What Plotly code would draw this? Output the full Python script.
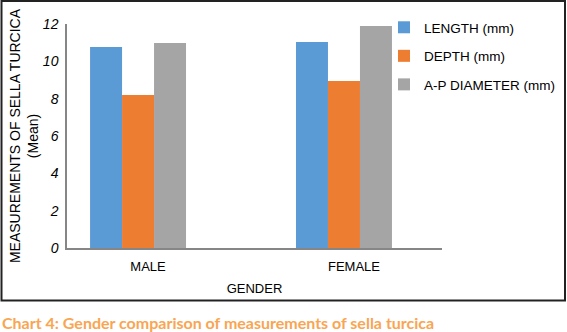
import plotly.graph_objects as go

categories = ["MALE", "FEMALE"]
series_names = ["LENGTH (mm)", "DEPTH (mm)", "A-P DIAMETER (mm)"]
length_vals = [10.77, 11.03]
depth_vals = [8.2, 8.95]
ap_vals = [10.98, 11.89]
y_ticks = [0, 2, 4, 6, 8, 10, 12]
colors = ["#5B9BD5", "#ED7D31", "#A5A5A5"]

W, H = 567, 332
L, R, T, B = 67, 442, 24, 248  # plot area in px

fig = go.Figure()
for i, (name, vals, col) in enumerate(zip(series_names, [length_vals, depth_vals, ap_vals], colors)):
    fig.add_trace(go.Bar(x=categories, y=vals, name=name, legendgroup=f"g{i}",
                         marker=dict(color=col, line=dict(width=0))))

def px_x(p):
    return (p - L) / (R - L)

def px_y(p):
    return (B - p) / (B - T)

fig.update_layout(
    width=W, height=H,
    margin=dict(l=L, r=W - R, t=T, b=H - B, autoexpand=False),
    paper_bgcolor="white", plot_bgcolor="white",
    barmode="group", bargap=0.534, bargroupgap=0,
    font=dict(family="Liberation Sans, Arial", size=13, color="#000"),
    showlegend=True,
    legend=dict(x=px_x(384), y=px_y(12), xanchor="left", yanchor="top",
                font=dict(size=13.5, family="Liberation Sans, Arial"),
                tracegroupgap=8, itemwidth=30, bgcolor="rgba(0,0,0,0)"),
    xaxis=dict(type="category", range=[-0.345, 1.476], showline=True, linecolor="#868686",
               linewidth=1.5, ticks="", showgrid=False, zeroline=False,
               tickfont=dict(size=13), ticklabelshift=10, ticklabelstandoff=6,
               title=dict(text="GENDER", font=dict(size=13), standoff=11)),
    yaxis=dict(range=[0, 12], tickvals=y_ticks, showline=True, linecolor="#868686",
               linewidth=1.5, ticks="", showgrid=False, zeroline=False,
               tickfont=dict(size=14, family="Liberation Sans, Arial"),
               ticklabelstandoff=4,
               title=dict(text="MEASUREMENTS OF SELLA TURCICA<br>(Mean)", font=dict(size=14), standoff=1)),
)

# italic y tick labels
fig.update_yaxes(ticktext=[f"<i>{v}</i>" for v in y_ticks])

# outer frame
fig.add_shape(type="rect", xref="paper", yref="paper",
              x0=px_x(1.5), x1=px_x(565), y0=px_y(300.5), y1=px_y(1),
              line=dict(color="#222", width=2), fillcolor="rgba(0,0,0,0)", layer="above")

# caption
fig.add_annotation(text="<b>Chart 4: Gender comparison of measurements of sella turcica</b>",
                   xref="paper", yref="paper", x=px_x(0), y=px_y(322), xanchor="left", yanchor="middle",
                   showarrow=False, font=dict(family="Lato", size=16, color="#F9A552"))

fig.write_html("out.html")
